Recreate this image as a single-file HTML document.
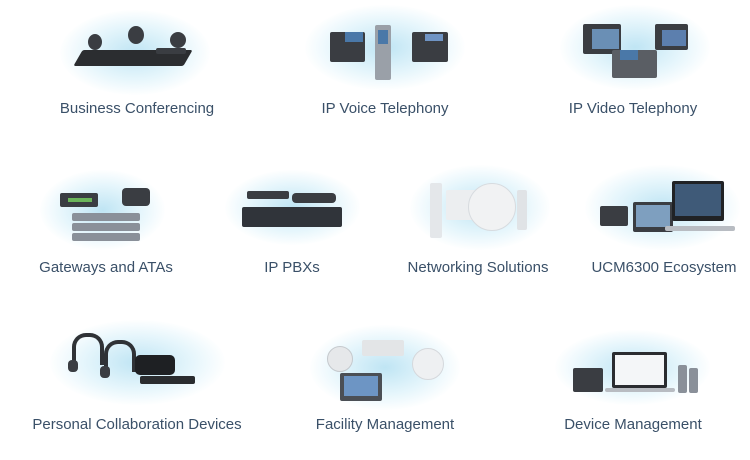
<!DOCTYPE html>
<html><head><meta charset="utf-8"><style>
html,body{margin:0;padding:0;background:#fff;}
body{width:750px;height:460px;position:relative;overflow:hidden;font-family:"Liberation Sans",sans-serif;}
.l{position:absolute;font-size:15px;line-height:18px;color:#3a5068;white-space:nowrap;transform:translateX(-50%);}
.g{position:absolute;border-radius:50%;background:radial-gradient(ellipse at center,rgba(170,220,240,0.75) 0%,rgba(200,235,248,0.45) 45%,rgba(255,255,255,0) 72%);}
.d{position:absolute;background:#3a3d42;border-radius:2px;}
.s{position:absolute;background:#8a9099;border-radius:2px;}
.sc{position:absolute;background:#4a78a8;}
</style></head><body>
<!-- glows -->
<div class="g" style="left:60px;top:10px;width:150px;height:85px"></div>
<div class="g" style="left:305px;top:5px;width:160px;height:85px"></div>
<div class="g" style="left:560px;top:5px;width:150px;height:85px"></div>
<div class="g" style="left:40px;top:170px;width:125px;height:80px"></div>
<div class="g" style="left:225px;top:170px;width:135px;height:75px"></div>
<div class="g" style="left:410px;top:165px;width:140px;height:85px"></div>
<div class="g" style="left:585px;top:165px;width:155px;height:85px"></div>
<div class="g" style="left:50px;top:320px;width:175px;height:85px"></div>
<div class="g" style="left:310px;top:325px;width:150px;height:85px"></div>
<div class="g" style="left:555px;top:330px;width:155px;height:75px"></div>

<!-- Business conferencing -->
<div class="d" style="left:78px;top:50px;width:110px;height:16px;transform:skewX(-30deg);background:#2b2d30"></div>
<div class="d" style="left:88px;top:34px;width:14px;height:16px;border-radius:50%"></div>
<div class="d" style="left:128px;top:26px;width:16px;height:18px;border-radius:50%"></div>
<div class="d" style="left:170px;top:32px;width:16px;height:16px;border-radius:50%"></div>
<div class="d" style="left:156px;top:48px;width:30px;height:6px"></div>

<!-- IP voice -->
<div class="d" style="left:330px;top:32px;width:35px;height:30px"></div>
<div class="sc" style="left:345px;top:32px;width:18px;height:10px"></div>
<div class="s" style="left:375px;top:25px;width:16px;height:55px;background:#9aa0a8"></div>
<div class="sc" style="left:378px;top:30px;width:10px;height:14px"></div>
<div class="d" style="left:412px;top:32px;width:36px;height:30px"></div>
<div class="sc" style="left:425px;top:34px;width:18px;height:7px;background:#6f94c4"></div>

<!-- IP video -->
<div class="d" style="left:583px;top:24px;width:38px;height:30px"></div>
<div class="sc" style="left:592px;top:29px;width:27px;height:20px;background:#6a8fb5"></div>
<div class="d" style="left:612px;top:50px;width:45px;height:28px;background:#5a5e64"></div>
<div class="sc" style="left:620px;top:50px;width:18px;height:10px"></div>
<div class="d" style="left:655px;top:24px;width:33px;height:26px"></div>
<div class="sc" style="left:662px;top:30px;width:24px;height:16px;background:#5c7fae"></div>

<!-- Gateways -->
<div class="d" style="left:60px;top:193px;width:38px;height:14px"></div>
<div class="sc" style="left:68px;top:198px;width:24px;height:4px;background:#6bb55a"></div>
<div class="d" style="left:122px;top:188px;width:28px;height:18px;border-radius:4px"></div>
<div class="s" style="left:72px;top:213px;width:68px;height:8px"></div>
<div class="s" style="left:72px;top:223px;width:68px;height:8px"></div>
<div class="s" style="left:72px;top:233px;width:68px;height:8px"></div>

<!-- IP PBX -->
<div class="d" style="left:247px;top:191px;width:42px;height:8px"></div>
<div class="d" style="left:292px;top:193px;width:44px;height:10px;border-radius:4px"></div>
<div class="d" style="left:242px;top:207px;width:100px;height:20px;background:#30343a"></div>

<!-- Networking -->
<div class="s" style="left:430px;top:183px;width:12px;height:55px;background:#e4e7ea"></div>
<div class="s" style="left:446px;top:190px;width:34px;height:30px;background:#eceef0"></div>
<div style="position:absolute;left:468px;top:183px;width:46px;height:46px;border-radius:50%;background:#f1f2f3;border:1px solid #d7dbdf"></div>
<div class="s" style="left:517px;top:190px;width:10px;height:40px;background:#e0e3e6"></div>

<!-- UCM6300 -->
<div class="d" style="left:600px;top:206px;width:28px;height:20px"></div>
<div class="d" style="left:633px;top:202px;width:40px;height:30px"></div>
<div class="sc" style="left:636px;top:205px;width:34px;height:22px;background:#7e9fbf"></div>
<div class="d" style="left:672px;top:181px;width:52px;height:40px;background:#202225"></div>
<div class="sc" style="left:675px;top:184px;width:46px;height:32px;background:#3f5a78"></div>
<div class="s" style="left:665px;top:226px;width:70px;height:5px;background:#b8bcc2"></div>

<!-- Personal collab -->
<div style="position:absolute;left:72px;top:333px;width:24px;height:28px;border:4px solid #2f3236;border-bottom:none;border-radius:14px 14px 0 0"></div>
<div style="position:absolute;left:104px;top:340px;width:24px;height:28px;border:4px solid #2f3236;border-bottom:none;border-radius:14px 14px 0 0"></div>
<div class="d" style="left:68px;top:360px;width:10px;height:12px;border-radius:4px"></div>
<div class="d" style="left:100px;top:366px;width:10px;height:12px;border-radius:4px"></div>
<div class="d" style="left:135px;top:355px;width:40px;height:20px;border-radius:5px;background:#1e2023"></div>
<div class="d" style="left:140px;top:376px;width:55px;height:8px;background:#2a2c2f"></div>

<!-- Facility -->
<div class="s" style="left:327px;top:346px;width:24px;height:24px;border-radius:50%;background:#e6e8ea;border:1px solid #c5c9cd"></div>
<div class="s" style="left:362px;top:340px;width:42px;height:16px;background:#e3e5e7"></div>
<div class="d" style="left:340px;top:373px;width:42px;height:28px;background:#4b4f55"></div>
<div class="sc" style="left:344px;top:376px;width:34px;height:20px;background:#6d95c4"></div>
<div style="position:absolute;left:412px;top:348px;width:30px;height:30px;border-radius:50%;background:#eef0f2;border:1px solid #d5d8dc"></div>

<!-- Device mgmt -->
<div class="d" style="left:573px;top:368px;width:30px;height:24px"></div>
<div class="d" style="left:612px;top:352px;width:55px;height:36px;background:#2a2c30"></div>
<div style="position:absolute;left:615px;top:355px;width:49px;height:30px;background:#f4f6f8"></div>
<div class="s" style="left:605px;top:388px;width:70px;height:4px;background:#b8bcc2"></div>
<div class="s" style="left:678px;top:365px;width:9px;height:28px"></div>
<div class="s" style="left:689px;top:368px;width:9px;height:25px"></div>

<!-- labels -->
<div class="l" style="left:137px;top:100px">Business Conferencing</div>
<div class="l" style="left:385px;top:100px">IP Voice Telephony</div>
<div class="l" style="left:633px;top:100px">IP Video Telephony</div>
<div class="l" style="left:106px;top:259px">Gateways and ATAs</div>
<div class="l" style="left:292px;top:259px">IP PBXs</div>
<div class="l" style="left:478px;top:259px">Networking Solutions</div>
<div class="l" style="left:664px;top:259px">UCM6300 Ecosystem</div>
<div class="l" style="left:137px;top:416px">Personal Collaboration Devices</div>
<div class="l" style="left:385px;top:416px">Facility Management</div>
<div class="l" style="left:633px;top:416px">Device Management</div>
</body></html>
